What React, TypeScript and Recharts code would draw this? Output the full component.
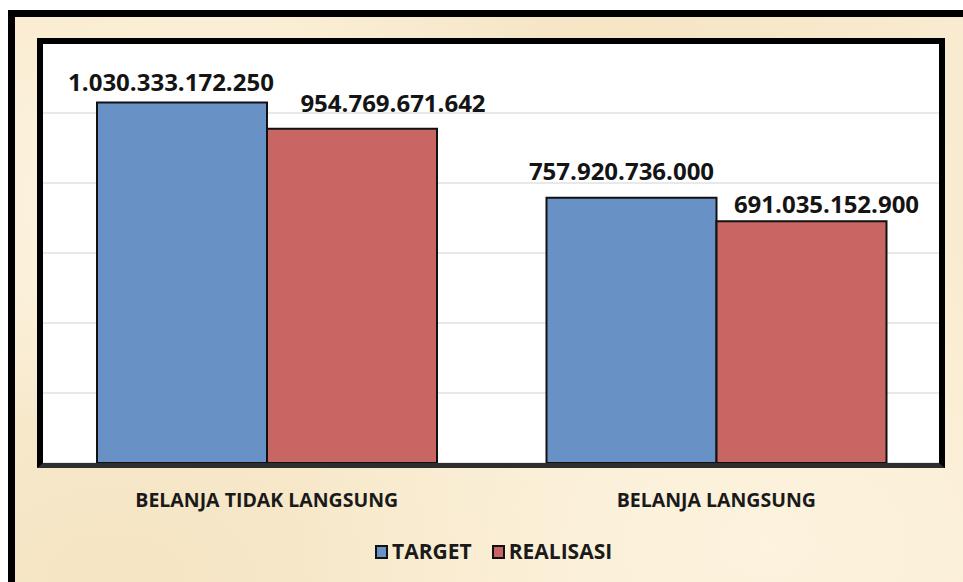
import React from 'react';
import { BarChart, Bar, XAxis, YAxis, CartesianGrid, Legend, LabelList } from 'recharts';

const categories = ['BELANJA TIDAK LANGSUNG', 'BELANJA LANGSUNG'];
const targetValues = [1030333172250, 757920736000];
const realisasiValues = [954769671642, 691035152900];
const seriesNames = ['TARGET', 'REALISASI'];
const yTicks = [0, 200e9, 400e9, 600e9, 800e9, 1000e9, 1200e9];

const COLORS = { TARGET: '#6892c5', REALISASI: '#c76662' };
// manual label nudges (as in the original, per bar)
const LABEL_NUDGE: Record<string, { dx: number[]; dy: number[] }> = {
  TARGET: { dx: [-11, -10], dy: [-11, -18] },
  REALISASI: { dx: [41, 25], dy: [-17, -8] },
};

const data = categories.map((name, i) => ({
  name,
  [seriesNames[0]]: targetValues[i],
  [seriesNames[1]]: realisasiValues[i],
}));

const fmt = (v: number) => String(Math.round(v)).replace(/\B(?=(\d{3})+(?!\d))/g, '.');

const FONT = "'Open Sans', 'Noto Sans', sans-serif";

const makeLabel = (series: string) => (props: any) => {
  const { x, y, width, value, index } = props;
  const n = LABEL_NUDGE[series];
  return (
    <text
      x={Number(x) + Number(width) / 2 + n.dx[index]}
      y={Number(y) + n.dy[index]}
      textAnchor="middle"
      fontFamily={FONT}
      fontWeight={700}
      fontSize={24}
      fill="#141414"
    >
      {fmt(value)}
    </text>
  );
};

const XTick = (props: any) => {
  const { x, y, payload } = props;
  return (
    <text x={x} y={y + 44} textAnchor="middle" fontFamily={FONT} fontWeight={700} fontSize={19.5} fill="#1a1a1a">
      {payload.value}
    </text>
  );
};

const LegendContent = (props: any) => {
  const payload = [...(props.payload || [])].sort(
    (a: any, b: any) => seriesNames.indexOf(a.value) - seriesNames.indexOf(b.value)
  );
  return (
    <div style={{ display: 'flex', alignItems: 'center', fontFamily: FONT, fontWeight: 700, fontSize: 21, lineHeight: '28px', color: '#1a1a1a' }}>
      {payload.map((p: any, i: number) => (
        <div key={i} style={{ display: 'flex', alignItems: 'center', marginRight: 20 }}>
          <span style={{ display: 'inline-block', width: 9, height: 10, border: '2px solid #111', background: p.color, marginRight: 4, marginTop: 2 }} />
          <span>{p.value}</span>
        </div>
      ))}
    </div>
  );
};

export default function App() {
  const parchment =
    'radial-gradient(ellipse at 20% 30%, rgba(255,250,238,0.7), rgba(255,250,238,0) 40%),' +
    'radial-gradient(ellipse at 75% 85%, rgba(255,248,232,0.6), rgba(255,248,232,0) 45%),' +
    'radial-gradient(ellipse at 60% 10%, rgba(240,222,185,0.5), rgba(240,222,185,0) 40%),' +
    'radial-gradient(ellipse at 10% 90%, rgba(240,222,185,0.5), rgba(240,222,185,0) 35%)';
  return (
    <div style={{ position: 'fixed', left: 0, top: 0, width: 963, height: 582, background: '#ffffff', overflow: 'hidden' }}>
      <div
        style={{
          position: 'absolute',
          left: 8,
          top: 10,
          width: 1000,
          height: 620,
          borderLeft: '7px solid #000',
          borderTop: '7px solid #000',
          background: '#f9ebcf',
          backgroundImage: parchment,
        }}
      />
      <div style={{ position: 'absolute', left: 40, top: 41, width: 901, height: 422, background: '#ffffff' }} />
      <div style={{ position: 'absolute', left: 0, top: 0 }}>
        <BarChart
          width={963}
          height={582}
          data={data}
          margin={{ top: 43, left: 42, right: 22, bottom: 79 }}
          barGap={0}
        >
          <CartesianGrid vertical={false} stroke="#d2d2d2" strokeWidth={1} />
          <YAxis hide domain={[0, 1200e9]} ticks={yTicks} />
          <XAxis dataKey="name" height={40} axisLine={false} tickLine={false} tickSize={0} tickMargin={0} tick={<XTick />} interval={0} />
          <Legend verticalAlign="middle" itemSorter={null as any} content={<LegendContent />} wrapperStyle={{ left: 375, top: 537, width: 300 }} />
          {seriesNames.map((s) => (
            <Bar key={s} dataKey={s} fill={COLORS[s as keyof typeof COLORS]} stroke="#111" strokeWidth={2} barSize={170} isAnimationActive={false}>
              <LabelList dataKey={s} content={makeLabel(s)} />
            </Bar>
          ))}
        </BarChart>
      </div>
      <div
        style={{
          position: 'absolute',
          left: 37,
          top: 38,
          width: 908,
          height: 430,
          boxSizing: 'border-box',
          borderTop: '6px solid #000',
          borderLeft: '6px solid #000',
          borderRight: '6px solid #000',
          borderBottom: '5px solid #2e2e2e',
          pointerEvents: 'none',
        }}
      />
    </div>
  );
}
